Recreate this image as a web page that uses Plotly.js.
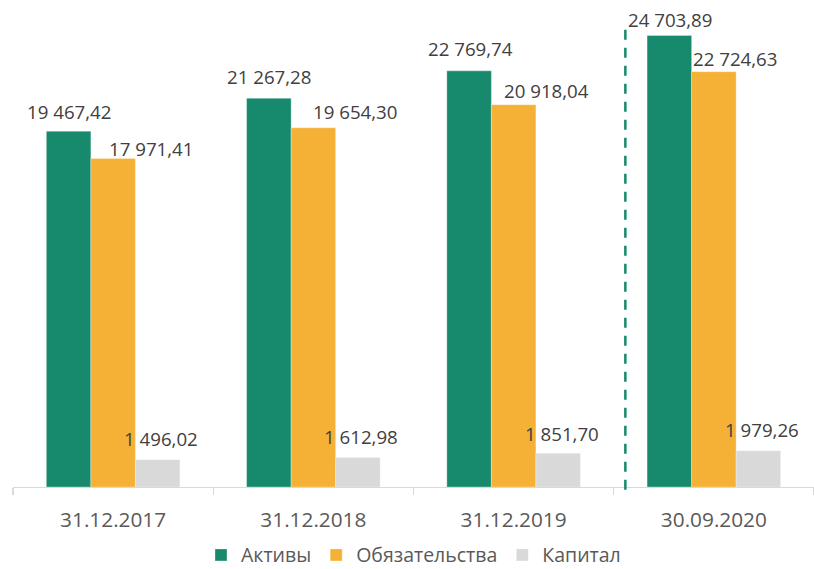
<!DOCTYPE html>
<html>
<head>
<meta charset="utf-8">
<script src="https://cdn.plot.ly/plotly-3.0.1.min.js"></script>
<style>html,body{margin:0;padding:0;background:#fff;}#chart{width:814px;height:569px;}</style>
</head>
<body>
<div id="chart"></div>
<script>
// ---- data ----
const categories = ["31.12.2017", "31.12.2018", "31.12.2019", "30.09.2020"];
const seriesNames = ["Активы", "Обязательства", "Капитал"];
const assets = [19467.42, 21267.28, 22769.74, 24703.89];
const liabilities = [17971.41, 19654.30, 20918.04, 22724.63];
const capital = [1496.02, 1612.98, 1851.70, 1979.26];

// ---- styles ----
const colors = ["#178a6e", "#f5b135", "#d9d9d9"];
const bargap = 0.333;
// label offsets (px) per series per category
const labelYShift = [[20, 22, 22, 16], [10, 16, 14, 13], [21, 21, 20, 21]];
const labelXShift = [[1, 1, 1, 1], [38, 42, 33, 22], [3, 3, 4, 4]];

function fmt(v) {
  const parts = v.toFixed(2).split(".");
  const intPart = parts[0].replace(/\B(?=(\d{3})+(?!\d))/g, " ");
  return intPart + "," + parts[1];
}

const allSeries = [assets, liabilities, capital];
const traces = allSeries.map((vals, s) => ({
  type: "bar",
  name: seriesNames[s],
  x: categories,
  y: vals,
  marker: { color: colors[s], line: { color: "rgba(255,255,255,0.5)", width: 0.6 } },
  hoverinfo: "skip"
}));

const w = (1 - bargap) / 3;
const annotations = [];
allSeries.forEach((vals, s) => {
  vals.forEach((v, i) => {
    annotations.push({
      x: i + (s - 1) * w,
      y: v,
      xref: "x",
      yref: "y",
      text: fmt(v),
      showarrow: false,
      xanchor: "center",
      yanchor: "middle",
      xshift: labelXShift[s][i],
      yshift: labelYShift[s][i],
      font: { family: "Open Sans, sans-serif", size: 18.7, color: "#404040" }
    });
  });
});

const layout = {
  width: 814,
  height: 569,
  margin: { l: 13, r: 0, t: 10, b: 82, autoexpand: false },
  paper_bgcolor: "#ffffff",
  plot_bgcolor: "#ffffff",
  barmode: "group",
  bargap: bargap,
  bargroupgap: 0,
  showlegend: true,
  legend: {
    orientation: "h",
    x: 0.5,
    xanchor: "center",
    y: -0.143,
    yanchor: "middle",
    font: { family: "Open Sans, sans-serif", size: 19.5, color: "#595959" },
    itemclick: false
  },
  xaxis: {
    type: "category",
    showgrid: false,
    showline: true,
    linecolor: "#d9d9d9",
    linewidth: 1.3,
    ticks: "outside",
    tickson: "boundaries",
    ticklen: 7,
    tickcolor: "#d9d9d9",
    tickwidth: 1.3,
    ticklabelstandoff: 14,
    tickfont: { family: "Open Sans, sans-serif", size: 20.8, color: "#595959" },
    zeroline: false
  },
  yaxis: {
    range: [0, 26100],
    visible: false,
    showgrid: false,
    zeroline: false
  },
  shapes: [{
    type: "line",
    xref: "x",
    yref: "paper",
    x0: 2.558,
    x1: 2.558,
    y0: -0.006,
    y1: 0.975,
    line: { color: "#178a6e", width: 2.5, dash: "10px,8px" }
  }],
  annotations: annotations
};

Plotly.newPlot("chart", traces, layout, { displayModeBar: false, staticPlot: true });
</script>
</body>
</html>
